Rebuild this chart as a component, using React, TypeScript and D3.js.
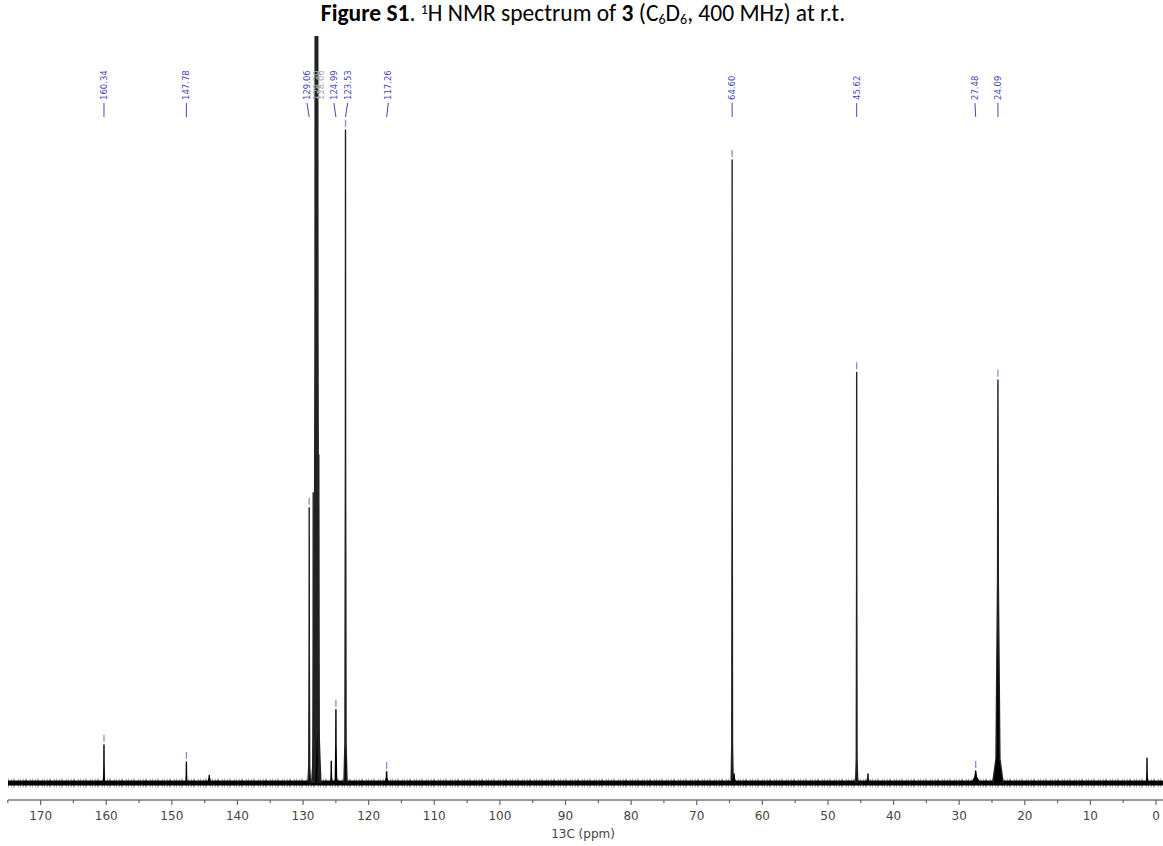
import * as d3 from 'd3';
import { useEffect, useRef } from 'react';

// peak list: shift (ppm), relative height (0..100 = plot top), half width (ppm)
const peakPpm = [160.34, 147.78, 144.3, 129.06, 128.45, 128.06, 127.85, 127.6, 125.7, 124.99, 123.53, 117.26, 64.6, 64.3, 45.62, 43.9, 27.48, 24.09, 1.37];
const peakHeight = [5.1, 2.8, 1.0, 36.8, 38.8, 120, 120, 43.9, 2.9, 9.8, 87.3, 1.5, 83.3, 1.2, 54.9, 1.2, 1.6, 53.9, 3.3];
const peakWidth = [0.08, 0.08, 0.4, 0.12, 0.1, 0.3, 0.3, 0.1, 0.1, 0.15, 0.15, 0.3, 0.1, 0.35, 0.1, 0.15, 0.9, 0.5, 0.08];

// labelled peaks: text, label x position in ppm (labels are spread where crowded)
const labelText = ['160.34', '147.78', '129.06', '124.99', '123.53', '117.26', '64.60', '45.62', '27.48', '24.09'];
const labelPeak = [160.34, 147.78, 129.06, 124.99, 123.53, 117.26, 64.6, 45.62, 27.48, 24.09];
const labelPos = [160.34, 147.78, 129.4, 125.3, 123.2, 117.0, 64.6, 45.62, 27.6, 24.09];
const labelTop = [5.1, 2.8, 36.8, 9.8, 87.3, 1.5, 83.3, 54.9, 1.6, 53.9];
const solventLabels = ['128.30', '128.06'];
const solventPos = [127.9, 127.3];

const majorTicks = [170, 160, 150, 140, 130, 120, 110, 100, 90, 80, 70, 60, 50, 40, 30, 20, 10, 0];

export default function App() {
  const ref = useRef<SVGSVGElement | null>(null);

  useEffect(() => {
    const W = 1163, H = 846;
    const svg = d3.select(ref.current).attr('width', W).attr('height', H);
    svg.selectAll('*').remove();

    const x = d3.scaleLinear().domain([170, 0]).range([40.6, 1156]);
    const y = d3.scaleLinear().domain([0, 100]).range([783, 35]);
    const ppmLeft = x.invert(8), ppmRight = x.invert(1163);

    // title
    const title = svg.append('text')
      .attr('x', 583).attr('y', 21)
      .attr('text-anchor', 'middle')
      .style('font-family', 'Carlito, Calibri, "Noto Sans", sans-serif')
      .style('font-size', '23.5px')
      .style('fill', '#000');
    title.append('tspan').style('font-weight', 'bold').text('Figure S1');
    title.append('tspan').text('. ');
    title.append('tspan').attr('dy', -7).style('font-size', '14px').text('1');
    title.append('tspan').attr('dy', 7).text('H NMR spectrum of ');
    title.append('tspan').style('font-weight', 'bold').text('3');
    title.append('tspan').text(' (C');
    title.append('tspan').attr('dy', 3).style('font-size', '14px').text('6');
    title.append('tspan').attr('dy', -3).text('D');
    title.append('tspan').attr('dy', 3).style('font-size', '14px').text('6');
    title.append('tspan').attr('dy', -3).text(', 400 MHz) at r.t.');

    svg.append('clipPath').attr('id', 'plotclip')
      .append('rect').attr('x', 8).attr('y', 36).attr('width', W - 8).attr('height', 760);

    const plot = svg.append('g').attr('clip-path', 'url(#plotclip)');

    // baseline (noise band)
    plot.append('line')
      .attr('x1', x(ppmLeft)).attr('x2', x(ppmRight))
      .attr('y1', y(0)).attr('y2', y(0))
      .attr('stroke', '#000').attr('stroke-width', 5);
    plot.append('line')
      .attr('x1', x(ppmLeft)).attr('x2', x(ppmRight))
      .attr('y1', y(0)).attr('y2', y(0))
      .attr('stroke', '#000').attr('stroke-opacity', 0.3).attr('stroke-width', 9)
      .attr('stroke-dasharray', '1 2 1 1 2 3 1 1');

    // peaks
    const line = d3.line<[number, number]>().x((d) => x(d[0])).y((d) => y(d[1]));
    peakPpm.forEach((p, i) => {
      const h = peakHeight[i], w = peakWidth[i];
      const pts: [number, number][] = [
        [p + w * 1.6, 0], [p + w * 0.6, h * 0.06], [p + w * 0.12, h * 0.5], [p, h],
        [p - w * 0.12, h * 0.5], [p - w * 0.6, h * 0.06], [p - w * 1.6, 0],
      ];
      plot.append('path')
        .attr('d', line(pts) as string)
        .attr('fill', '#000')
        .attr('stroke', h > 30 ? '#222' : '#000')
        .attr('stroke-width', h > 100 ? 2.5 : 1.4)
        .attr('stroke-linejoin', 'round');
    });

    // peak top markers
    labelPeak.forEach((p, i) => {
      const top = y(labelTop[i]);
      svg.append('line')
        .attr('x1', x(p)).attr('x2', x(p))
        .attr('y1', top - 10).attr('y2', top - 3)
        .attr('stroke', '#8a8ad8').attr('stroke-width', 1.3);
    });

    // peak labels
    const labelColor = '#4646b8';
    labelText.forEach((t, i) => {
      const lx = x(labelPos[i]), px = x(labelPeak[i]);
      svg.append('line')
        .attr('x1', lx).attr('x2', px)
        .attr('y1', 103).attr('y2', 117)
        .attr('stroke', labelColor).attr('stroke-width', 1);
      svg.append('text')
        .attr('transform', `translate(${lx + 3},100) rotate(-90)`)
        .attr('text-anchor', 'start')
        .style('font-family', '"DejaVu Sans", Verdana, sans-serif')
        .style('font-size', '8.5px')
        .style('fill', labelColor)
        .text(t);
    });
    solventLabels.forEach((t, i) => {
      const lx = x(solventPos[i]);
      svg.append('text')
        .attr('transform', `translate(${lx + 3},100) rotate(-90)`)
        .attr('text-anchor', 'start')
        .style('font-family', '"DejaVu Sans", Verdana, sans-serif')
        .style('font-size', '8.5px')
        .style('fill', '#aaa')
        .text(t);
    });

    // x axis
    const axisY = 800;
    svg.append('line')
      .attr('x1', 8).attr('x2', W).attr('y1', axisY).attr('y2', axisY)
      .attr('stroke', '#777').attr('stroke-width', 1.3);
    const minor = d3.range(175, -1, -5);
    minor.forEach((t) => {
      const major = t % 10 === 0;
      svg.append('line')
        .attr('x1', x(t)).attr('x2', x(t))
        .attr('y1', axisY).attr('y2', axisY + (major ? 5 : 3))
        .attr('stroke', '#666').attr('stroke-width', 1.2);
    });
    majorTicks.forEach((t) => {
      svg.append('text')
        .attr('x', x(t)).attr('y', 820)
        .attr('text-anchor', 'middle')
        .style('font-family', 'Tahoma, "DejaVu Sans", sans-serif')
        .style('font-size', '12px')
        .style('fill', '#444')
        .text(t);
    });
    svg.append('text')
      .attr('x', 583).attr('y', 838)
      .attr('text-anchor', 'middle')
      .style('font-family', 'Tahoma, "DejaVu Sans", sans-serif')
      .style('font-size', '12px')
      .style('fill', '#444')
      .text('13C (ppm)');
  }, []);

  return (
    <svg ref={ref} style={{ position: 'absolute', left: 0, top: 0, background: '#fff' }}></svg>
  );
}
